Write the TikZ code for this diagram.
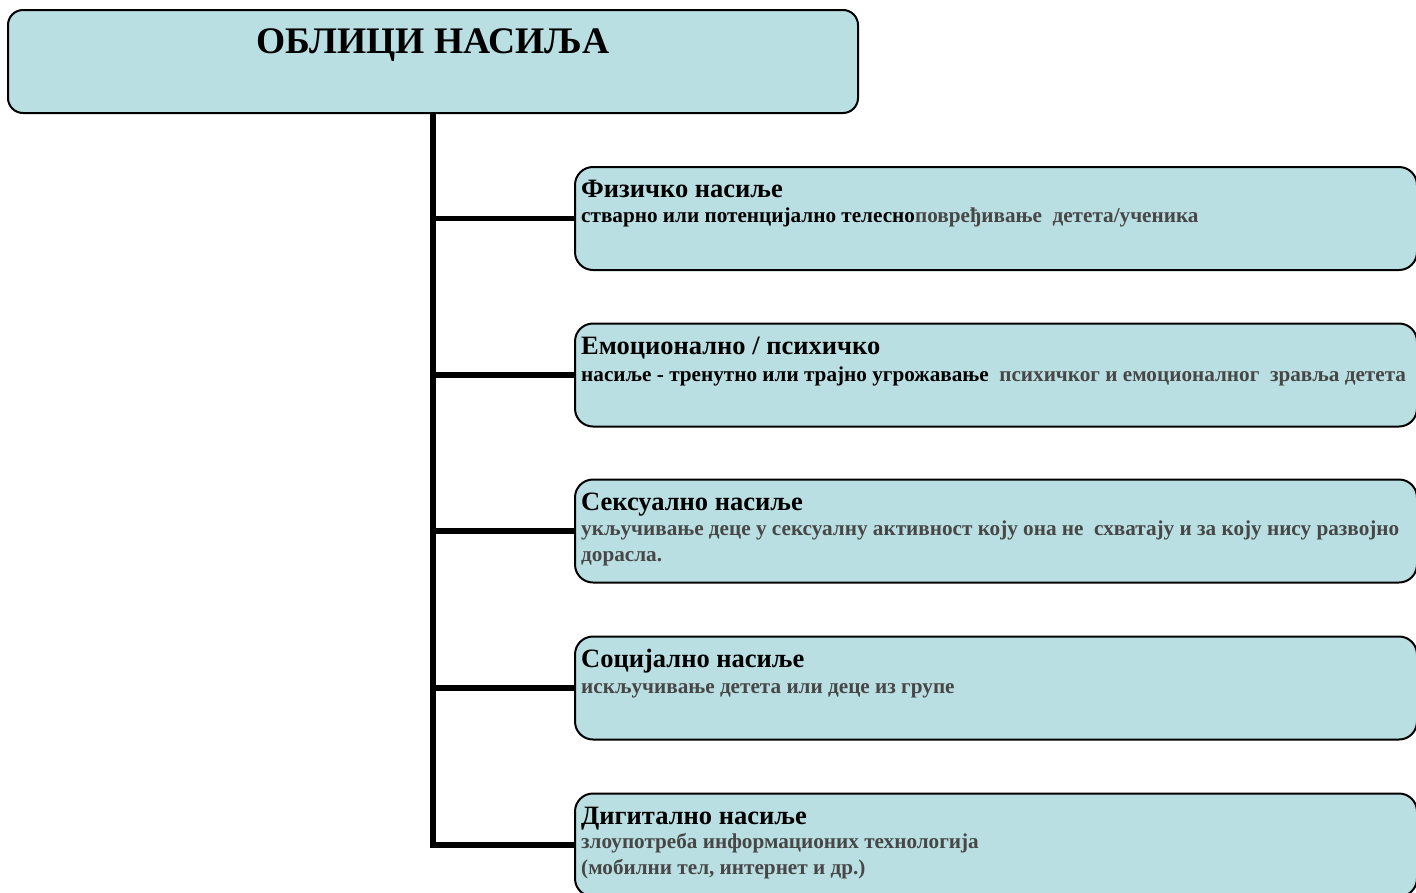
\documentclass[tikz,border=0pt]{standalone}
\usepackage{fontspec}
\setmainfont{Liberation Serif}
\definecolor{boxfill}{HTML}{B9DFE3}
\definecolor{dgray}{HTML}{474747}
\begin{document}
\begin{tikzpicture}[x=1pt,y=-1pt,
  titlebox/.style={draw=black,line width=2pt,fill=boxfill,rounded corners=15pt,minimum width=850pt,minimum height=103pt,inner sep=0pt},
  catbox/.style={draw=black,line width=2pt,fill=boxfill,rounded corners=18pt,minimum width=842pt,minimum height=103pt,inner sep=0pt},
  conn/.style={line width=5.5pt,black},
  head/.style={anchor=base west,inner sep=0pt,font=\fontsize{26.5}{30}\selectfont\bfseries},
  detail/.style={anchor=base west,inner sep=0pt,font=\fontsize{21.2}{25.5}\selectfont\bfseries,align=left},
]
\useasboundingbox (0,0) rectangle (1416,892);
\clip (0,0) rectangle (1416,892);
\node[titlebox] (title) at (433,61.5) {};
\node[anchor=base,inner sep=0pt,font=\fontsize{37.5}{40}\selectfont\bfseries] (ttext) at (433,53) {ОБЛИЦИ НАСИЉА};
\node[catbox] (b1) at (996,218.5) {};
\node[catbox] (b2) at (996,375) {};
\node[catbox] (b3) at (996,531) {};
\node[catbox] (b4) at (996,688) {};
\node[catbox] (b5) at (996,845) {};
\draw[conn] (title.south) |- (b5.west);
\foreach \b in {b1,b2,b3,b4}{\draw[conn] (title.south |- \b.west) -- (\b.west);}
\node[head] (h1) at (581,197) {Физичко насиље};
\node[detail] (d1) at (581,222) {стварно или потенцијално телесно\textcolor{dgray}{повређивање\ \ детета/ученика}};
\node[head] (h2) at (581,354) {Емоционално / психичко};
\node[detail] (d2) at (581,381) {насиље - тренутно или трајно угрожавање\ \ \textcolor{dgray}{психичког и емоционалног\ \ зравља детета}};
\node[head] (h3) at (581,510) {Сексуално насиље};
\node[detail,text=dgray] (d3) at (581,561) {укључивање деце у сексуалну активност коју она не\ \ схватају и за коју нису развојно\\дорасла.};
\node[head] (h4) at (581,667) {Социјално насиље};
\node[detail,text=dgray] (d4) at (581,693) {искључивање детета или деце из групе};
\node[head] (h5) at (581,824) {Дигитално насиље};
\node[detail,text=dgray] (d5) at (581,874) {злоупотреба информационих технологија\\(мобилни тел, интернет и др.)};
\end{tikzpicture}
\end{document}
